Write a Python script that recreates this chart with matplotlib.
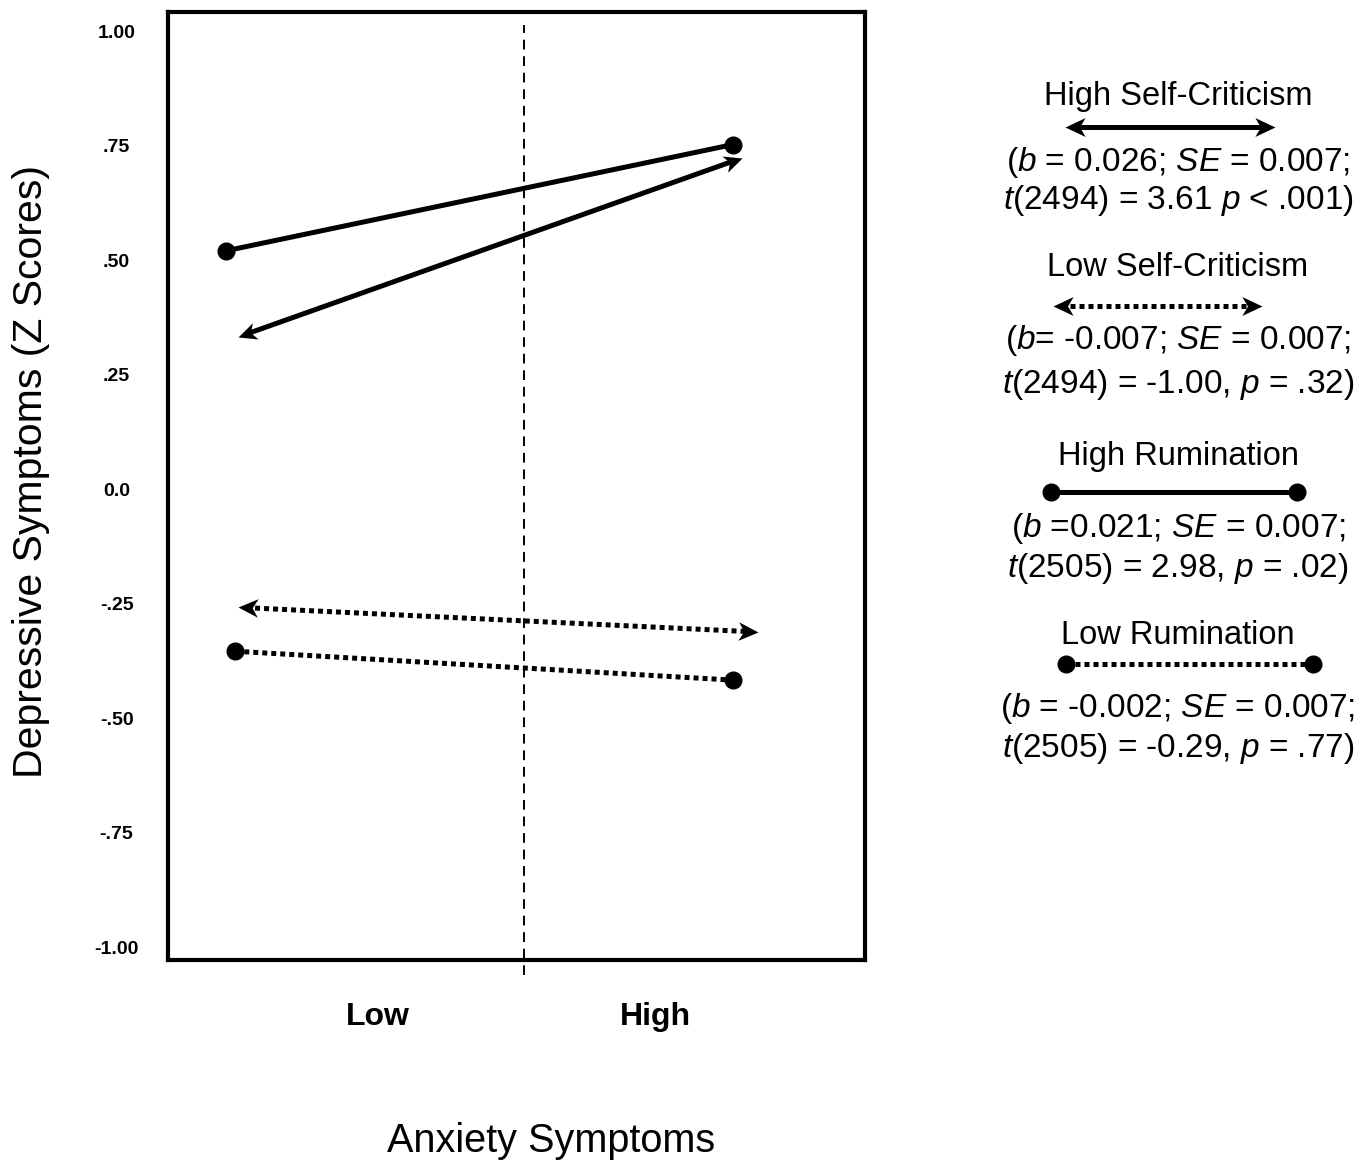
import matplotlib
matplotlib.use('Agg')
import numpy as np
import matplotlib.pyplot as plt
from matplotlib.path import Path

plt.rcParams['font.family'] = 'Liberation Sans'
plt.rcParams['mathtext.fontset'] = 'custom'
plt.rcParams['mathtext.rm'] = 'Liberation Sans'
plt.rcParams['mathtext.it'] = 'Liberation Sans:italic'

# data
categories = ['Low', 'High']
cat_pos = [1, 2]
y_ticks = [1.0, 0.75, 0.5, 0.25, 0.0, -0.25, -0.5, -0.75, -1.0]
y_ticklabels = ['1.00', '.75', '.50', '.25', '0.0', '-.25', '-.50', '-.75', '-1.00']

high_rum_x = [0.45, 2.28]
high_rum_y = [0.52, 0.752]
high_sc_x = [0.495, 2.315]
high_sc_y = [0.332, 0.723]
low_sc_x = [0.495, 2.37]
low_sc_y = [-0.258, -0.312]
low_rum_x = [0.485, 2.28]
low_rum_y = [-0.354, -0.417]

legend_titles = ['High Self-Criticism', 'Low Self-Criticism', 'High Rumination', 'Low Rumination']
legend_stats = [
    [r'($b$ = 0.026; $SE$ = 0.007;', r'$t$(2494) = 3.61 $p$ < .001)'],
    [r'($b$= -0.007; $SE$ = 0.007;', r'$t$(2494) = -1.00, $p$ = .32)'],
    [r'($b$ =0.021; $SE$ = 0.007;', r'$t$(2505) = 2.98, $p$ = .02)'],
    [r'($b$ = -0.002; $SE$ = 0.007;', r'$t$(2505) = -0.29, $p$ = .77)'],
]

W, H = 1363, 1165
fig = plt.figure(figsize=(W / 100, H / 100), dpi=100)
ax = fig.add_axes([168 / W, 205 / H, 697 / W, 948 / H])
ax.set_xlim(0.242, 2.758)
ax.set_ylim(-1.028, 1.0415)

for s in ax.spines.values():
    s.set_linewidth(3)

DOT = (0, (1, 0.8))
LW = 3.6
HEAD_MS = 29


def head_marker(angle):
    # stealth-style arrow head, tip at the origin, pointing along +x then rotated
    pts = np.array([(0, 0), (-1, 0.47), (-0.72, 0), (-1, -0.47), (0, 0)])
    c, s = np.cos(angle), np.sin(angle)
    rot = pts @ np.array([[c, s], [-s, c]])
    return Path(rot, [Path.MOVETO, Path.LINETO, Path.LINETO, Path.LINETO, Path.CLOSEPOLY])


def arrow(a, x, y, style):
    p = a.transData.transform(np.column_stack([x, y]))
    d = p[1] - p[0]
    ang = np.arctan2(d[1], d[0])
    u = d / np.hypot(*d)
    # keep the line body from poking past the head tips
    body = np.array([p[0] + u * 8, p[1] - u * 8])
    bx, by = a.transData.inverted().transform(body).T
    a.plot(bx, by, color='black', lw=LW, linestyle=style,
           dash_capstyle='butt', solid_capstyle='butt', zorder=3)
    a.plot([x[1]], [y[1]], marker=head_marker(ang), ms=HEAD_MS, color='black',
           mew=0, linestyle='none', zorder=4, clip_on=False)
    a.plot([x[0]], [y[0]], marker=head_marker(ang + np.pi), ms=HEAD_MS, color='black',
           mew=0, linestyle='none', zorder=4, clip_on=False)


# dashed midpoint line
ax.axvline(1.527, ymin=-0.016, ymax=0.986, color='black', lw=1.4,
           linestyle=(0, (5, 3.5)), clip_on=False, zorder=1)

ax.plot(high_rum_x, high_rum_y, color='black', lw=LW, marker='o', ms=12, zorder=3)
ax.plot(low_rum_x, low_rum_y, color='black', lw=LW, linestyle=DOT, marker='o', ms=12,
        dash_capstyle='butt', zorder=3)
arrow(ax, high_sc_x, high_sc_y, '-')
arrow(ax, low_sc_x, low_sc_y, DOT)

ax.set_yticks(y_ticks)
ax.set_yticklabels(y_ticklabels, ha='center', fontsize=14, fontweight='bold')
ax.tick_params(axis='y', length=0, pad=37)
ax.set_xticks(cat_pos)
ax.set_xticklabels(categories, fontsize=23, fontweight='bold')
ax.tick_params(axis='x', length=0, pad=30)

fig.text(551 / W, 1 - 1141 / H, 'Anxiety Symptoms', fontsize=28.5, ha='center', va='center')
fig.text(31 / W, 1 - 471 / H, 'Depressive Symptoms (Z Scores)', fontsize=29.5,
         rotation=90, ha='center', va='center')

# legend drawn in pixel coordinates
lg = fig.add_axes([0, 0, 1, 1])
lg.set_xlim(0, W)
lg.set_ylim(H, 0)
lg.axis('off')

title_y = [96, 268, 457, 635]
sample_y = [127, 306, 492, 664]
sample_x = [(1065, 1275), (1053, 1262), (1051, 1297), (1066, 1313)]
stat_y = [(163, 200), (341, 384), (528, 568), (709, 748)]
cx = 1178

for i in range(4):
    lg.text(cx, title_y[i], legend_titles[i], fontsize=23.5, ha='center', va='center')
    for j in range(2):
        lg.text(cx, stat_y[i][j], legend_stats[i][j], fontsize=24, ha='center', va='center')
    xs = list(sample_x[i])
    ys = [sample_y[i]] * 2
    if i == 0:
        arrow(lg, xs, ys, '-')
    elif i == 1:
        arrow(lg, xs, ys, DOT)
    elif i == 2:
        lg.plot(xs, ys, color='black', lw=LW, marker='o', ms=12)
    else:
        lg.plot(xs, ys, color='black', lw=LW, linestyle=DOT, marker='o', ms=12,
                dash_capstyle='butt')

fig.savefig('out.png', dpi=100)
